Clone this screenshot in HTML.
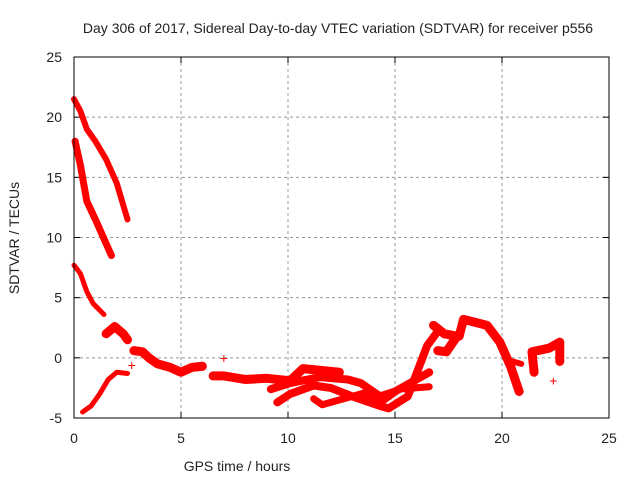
<!DOCTYPE html>
<html><head><meta charset="utf-8"><style>
body{margin:0;background:#fff;}
svg text{font-family:"Liberation Sans",sans-serif;fill:#222;}
</style></head><body>
<svg id="c" width="640" height="480" xmlns="http://www.w3.org/2000/svg">
<text x="338" y="33" font-size="14" text-anchor="middle">Day 306 of 2017, Sidereal Day-to-day VTEC variation (SDTVAR) for receiver p556</text>
<text x="237" y="471" font-size="14" text-anchor="middle">GPS time / hours</text>
<text transform="translate(19,238) rotate(-90)" font-size="14" text-anchor="middle">SDTVAR / TECUs</text>
<g id="grid"></g>
<g id="ticks"></g>
<g id="series"></g>
<rect x="74" y="57" width="535" height="361" fill="none" stroke="#000" stroke-width="1"/>
</svg>
<script>
const xTicks=[0,5,10,15,20,25];
const yTicks=[-5,0,5,10,15,20,25];
const track1=[[0,21.5],[0.3,20.5],[0.6,19],[1,18],[1.5,16.5],[2,14.5],[2.5,11.5]];
const track2=[[0.05,18],[0.3,16],[0.6,13],[1,11.5],[1.5,9.5],[1.75,8.5]];
const track3=[[0,7.7],[0.3,7],[0.6,5.5],[0.9,4.5],[1.4,3.6]];
const track4=[[0.4,-4.5],[0.8,-4],[1.2,-3],[1.6,-1.8],[2,-1.2],[2.5,-1.3]];
const track5=[[1.5,2],[1.9,2.6],[2.3,2],[2.5,1.5]];
const track6=[[2.8,0.6],[3.2,0.5],[3.5,0],[3.9,-0.5],[4.5,-0.8],[5,-1.2],[5.5,-0.8],[6,-0.7]];
const track7=[[6.5,-1.5],[7,-1.5],[8,-1.8],[9,-1.7],[10.1,-1.9],[10.7,-0.9],[12.4,-1.2]];
const track8=[[9.2,-2.6],[10.1,-2.1],[11.5,-1.6],[12.8,-1.8],[13.4,-2.1],[14.3,-3.2],[15,-2.8],[16.6,-1.2]];
const track9=[[9.5,-3.7],[10.1,-3],[11.2,-2.3],[12,-2.5],[13,-3.2],[14.3,-4],[14.7,-4.2],[15.6,-3.2],[16.5,1],[17,2.2]];
const track10=[[11.2,-3.4],[11.6,-3.9],[12.6,-3.4],[13.6,-2.9],[14.5,-3.5],[15.2,-2.6],[16.6,-2.4]];
const track11=[[16.8,2.7],[17.3,2],[17.9,1.8],[17.4,0.5],[17,0.6]];
const track12=[[18.0,1.8],[18.2,3.2],[19.3,2.7],[19.9,1.3],[20.4,-0.7],[20.8,-2.8]];
const track13=[[20.3,-0.2],[20.9,-0.5]];
const track14=[[21.5,-1.2],[21.4,0.5],[22.2,0.8],[22.7,1.3],[22.7,-0.3]];
const tracks=[track1,track2,track3,track4,track5,track6,track7,track8,track9,track10,track11,track12,track13,track14];
const widths=[6,7,5,5,9,9,9,8,8,7,9,9,6,9];
const NS="http://www.w3.org/2000/svg";
const X=v=>74+(v-0)*535/25, Y=v=>418-(v+5)*361/30;
const grid=document.getElementById('grid'),ticks=document.getElementById('ticks'),ser=document.getElementById('series');
function mk(tag,attrs,parent){const e=document.createElementNS(NS,tag);for(const k in attrs)e.setAttribute(k,attrs[k]);parent.appendChild(e);return e;}
xTicks.forEach(t=>{
 if(t>0&&t<25){const g=mk('line',{x1:X(t),x2:X(t),y1:57,y2:418,stroke:'#999','stroke-dasharray':'3,3'},grid);}
 mk('line',{x1:X(t),x2:X(t),y1:418,y2:412,stroke:'#000'},ticks);mk('line',{x1:X(t),x2:X(t),y1:57,y2:63,stroke:'#000'},ticks);
 const l=mk('text',{x:X(t),y:443,'font-size':14,'text-anchor':'middle'},ticks);l.textContent=t;
 
 
});
yTicks.forEach(t=>{
 if(t>-5&&t<25){const g=mk('line',{x1:74,x2:609,y1:Y(t),y2:Y(t),stroke:'#999','stroke-dasharray':'3,3'},grid);}
 mk('line',{x1:74,x2:80,y1:Y(t),y2:Y(t),stroke:'#000'},ticks);mk('line',{x1:609,x2:603,y1:Y(t),y2:Y(t),stroke:'#000'},ticks);
 const l=mk('text',{x:62,y:Y(t)+5,'font-size':14,'text-anchor':'end'},ticks);l.textContent=t;
 
 
});
tracks.forEach((tr,i)=>{
 const p=mk('polyline',{points:tr.map(d=>X(d[0])+','+Y(d[1])).join(' '),fill:'none',stroke:'#f00','stroke-width':widths[i],'stroke-linejoin':'round','stroke-linecap':'round'},ser);
 
 
});
const outliers=[[22.4,-1.9],[7,0],[2.7,-0.6]];
outliers.forEach(d=>{
 const t=mk('text',{x:X(d[0]),y:Y(d[1])+5,'font-size':14,'text-anchor':'middle',fill:'#f00',style:'fill:#f00'},ser);t.textContent='+';
 
 
});
</script>
</body></html>
